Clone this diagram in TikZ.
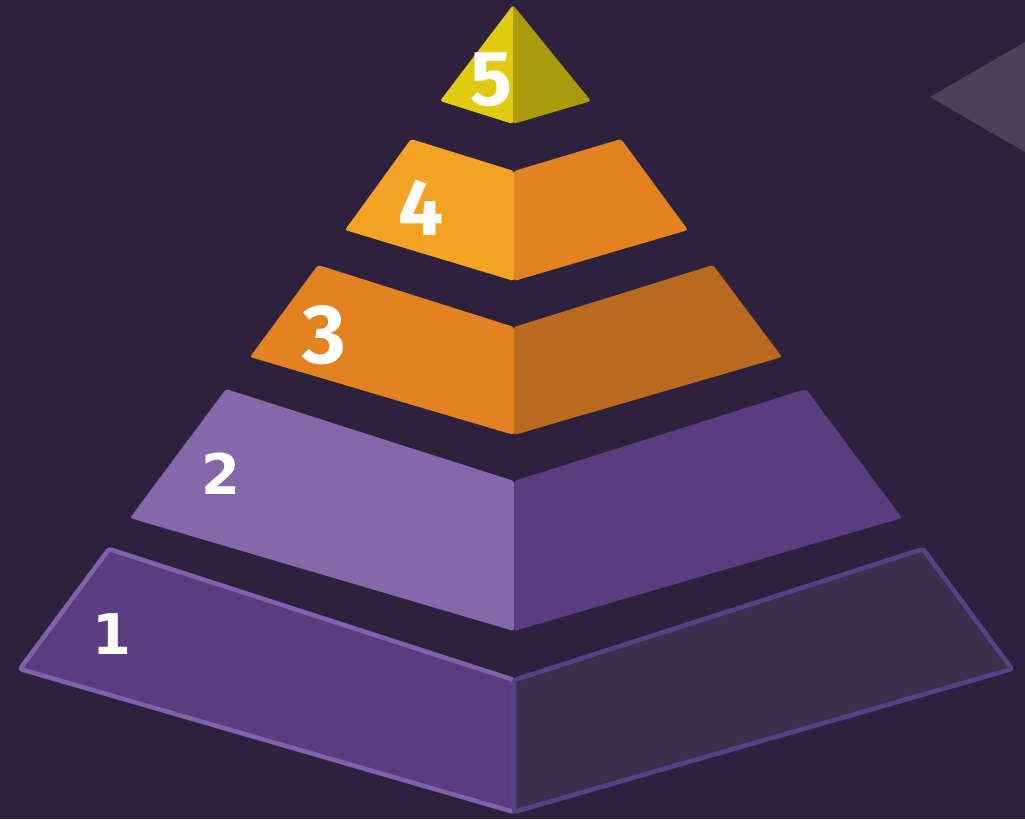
\documentclass[tikz,border=0pt]{standalone}
\usepackage{fontspec}
\newfontfamily\numfont{Fira Sans}
\newfontfamily\boxfont{DejaVu Sans}
\definecolor{bgdark}{RGB}{44,34,62}
\definecolor{yelL}{RGB}{225,203,18}
\definecolor{yelR}{RGB}{170,154,12}
\definecolor{orfL}{RGB}{244,162,36}
\definecolor{orfR}{RGB}{226,130,33}
\definecolor{ortL}{RGB}{226,130,32}
\definecolor{ortR}{RGB}{186,106,31}
\definecolor{purL}{RGB}{132,104,169}
\definecolor{purR}{RGB}{90,61,126}
\definecolor{baseL}{RGB}{90,61,126}
\definecolor{baseLedge}{RGB}{126,98,170}
\definecolor{baseR}{RGB}{62,46,76}
\definecolor{baseRedge}{RGB}{87,64,132}
\definecolor{greytri}{RGB}{75,65,89}

\begin{document}
\begin{tikzpicture}[x=1pt, y=-1pt,
		face/.style={rounded corners=2.5pt},
		digit/.style={text=white, inner sep=0pt}]
	\fill[bgdark] (0,0) rectangle (1025,819);
	\useasboundingbox (0,0) rectangle (1025,819);
	% grey marker, top right
	\fill[greytri] (930,97) -- (1025,42) -- (1025,152) -- cycle;
	% level 1
	\filldraw[face, fill=baseL, draw=baseLedge, line width=4.5pt] (109,549) -- (514,680) -- (514,812) -- (20,669) -- cycle;
	\filldraw[face, fill=baseR, draw=baseRedge, line width=4.5pt] (514,680) -- (923,549) -- (1012,669) -- (514,812) -- cycle;
	% level 2
	\fill[face, purL] (226,389) -- (514,481) -- (514,631) -- (130,518) -- cycle;
	\fill[face, purR] (514,481) -- (806,389) -- (902,518) -- (514,631) -- cycle;
	% level 3
	\fill[face, ortL] (318,265) -- (514,327) -- (514,435) -- (250,357) -- cycle;
	\fill[face, ortR] (514,327) -- (713,265) -- (782,357) -- (514,435) -- cycle;
	% level 4
	\fill[face, orfL] (411,139) -- (514,171) -- (514,281) -- (345,230) -- cycle;
	\fill[face, orfR] (514,171) -- (621,139) -- (688,230) -- (514,281) -- cycle;
	% level 5
	\fill[face, yelL] (513,5) -- (513,124) -- (440,101) -- cycle;
	\fill[face, yelR] (513,5) -- (591,101) -- (513,124) -- cycle;
	% numbers
	\node[digit] (n5) at (491,80) {\numfont\bfseries\fontsize{78}{78}\selectfont 5};
	\node[digit] (n4) at (421,208) {\numfont\bfseries\fontsize{80}{80}\selectfont 4};
	\node[digit] (n3) at (324,335) {\numfont\bfseries\fontsize{84}{84}\selectfont 3};
	\node[digit] (n2) at (221,474) {\boxfont\bfseries\fontsize{56}{56}\selectfont 2};
	\node[digit] (n1) at (112,634) {\boxfont\bfseries\fontsize{56}{56}\selectfont 1};
\end{tikzpicture}
\end{document}
